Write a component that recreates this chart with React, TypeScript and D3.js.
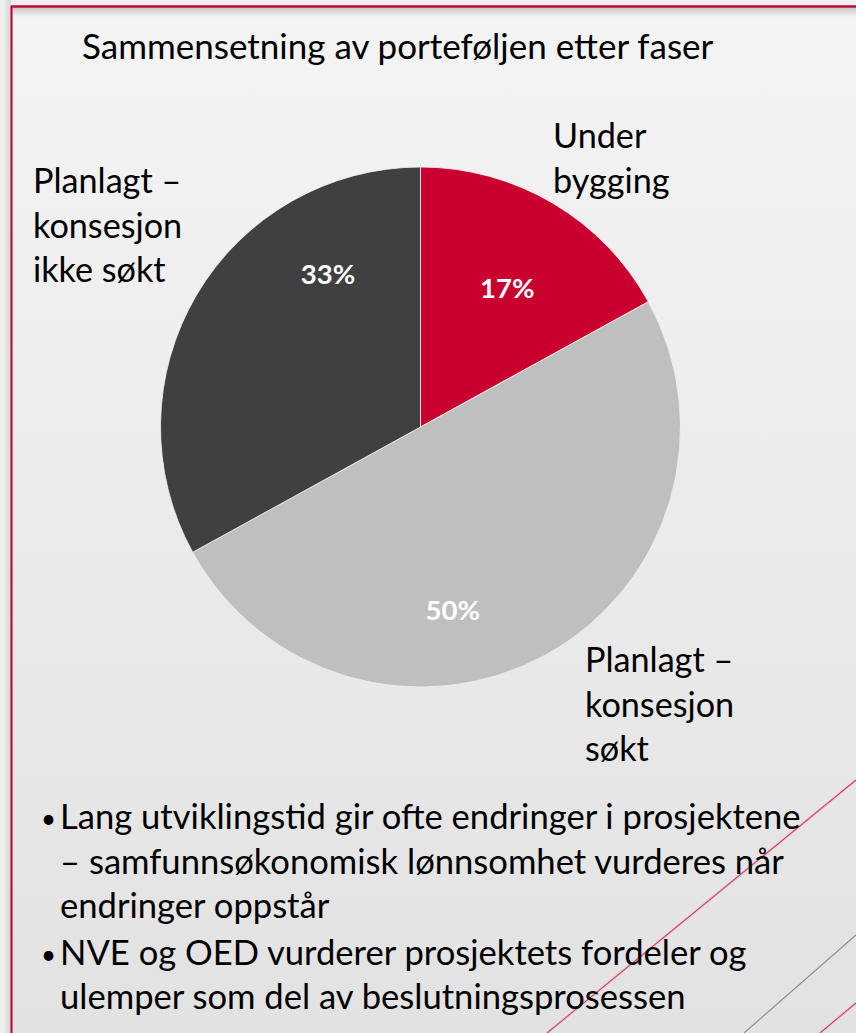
import React from "react";
import * as d3 from "d3";

const title = "Sammensetning av porteføljen etter faser";
const categories = ["Under bygging", "Planlagt – konsesjon søkt", "Planlagt – konsesjon ikke søkt"];
const shares = [17, 50, 33];
const categoryLines = [
  ["Under", "bygging"],
  ["Planlagt –", "konsesjon", "søkt"],
  ["Planlagt –", "konsesjon", "ikke søkt"],
];
const bullets = [
  [
    "Lang utviklingstid gir ofte endringer i prosjektene",
    "– samfunnsøkonomisk lønnsomhet vurderes når",
    "endringer oppstår",
  ],
  [
    "NVE og OED vurderer prosjektets fordeler og",
    "ulemper som del av beslutningsprosessen",
  ],
];

const W = 856;
const H = 1033;
const FONT = "Lato, 'Open Sans', sans-serif";
const colors = ["#c9002f", "#bfbfbf", "#404040"];
// category label anchor (x, first baseline) per slice
const catPos = [
  { x: 553, y: 148 },
  { x: 585, y: 672 },
  { x: 33, y: 193 },
];
// percent label placement relative to slice: angle (deg from top, clockwise), radius fraction
const pctPos = [
  { a: 32, r: 0.63 },
  { a: 170, r: 0.715 },
  { a: 328.7, r: 0.685 },
];

export default function App() {
  const cx = 420.5;
  const cy = 427;
  const R = 260;
  const pie = d3.pie<number>().sort(null).value((d) => d)(shares);
  const arc = d3.arc<d3.PieArcDatum<number>>().innerRadius(0).outerRadius(R);
  const lineH = 44.5;
  const bulletLineH = 44.5;
  const bulletParaGap = 2;
  const bulletTop = 829;

  let by = bulletTop;
  const bulletEls: React.ReactNode[] = [];
  bullets.forEach((para, pi) => {
    para.forEach((ln, li) => {
      if (li === 0) {
        bulletEls.push(
          <text key={`b${pi}`} x={41} y={by - 1} fontSize={26} fontFamily={FONT} fill="#000">•</text>
        );
      }
      bulletEls.push(
        <text key={`l${pi}-${li}`} x={60} y={by} fontSize={34.6} fontFamily={FONT} fill="#000">{ln}</text>
      );
      by += bulletLineH;
    });
    by += bulletParaGap;
  });

  const fmt = d3.format(".0%");
  const total = d3.sum(shares);

  return (
    <svg width={W} height={H} style={{ position: "absolute", left: 0, top: 0, display: "block" }}>
      <defs>
        <linearGradient id="bg" x1="0" y1="0" x2="0" y2="1">
          <stop offset="0" stopColor="#f4f4f4" />
          <stop offset="1" stopColor="#e2e2e2" />
        </linearGradient>
        <linearGradient id="topShadow" x1="0" y1="0" x2="0" y2="1">
          <stop offset="0" stopColor="#c8c8c8" />
          <stop offset="1" stopColor="#c8c8c8" stopOpacity="0" />
        </linearGradient>
        <linearGradient id="leftShadow" x1="1" y1="0" x2="0" y2="0">
          <stop offset="0" stopColor="#d4d4d4" />
          <stop offset="1" stopColor="#d4d4d4" stopOpacity="0" />
        </linearGradient>
      </defs>
      <rect x={0} y={0} width={W} height={H} fill="#efefef" />
      <rect x={3} y={0} width={8} height={H} fill="url(#leftShadow)" />
      <rect x={11} y={6} width={W} height={H} fill="url(#bg)" />
      <rect x={12} y={8} width={W} height={9} fill="url(#topShadow)" />
      <line x1={11.5} y1={6} x2={11.5} y2={H} stroke="#c0002b" strokeWidth={2} />
      <line x1={11} y1={6.5} x2={W} y2={6.5} stroke="#c0002b" strokeWidth={2.5} />

      {/* decorative diagonal lines */}
      <g>
        <line x1={856} y1={780} x2={547} y2={1033} stroke="#f0c4cf" strokeWidth={3} opacity={0.6} />
        <line x1={856} y1={780} x2={547} y2={1033} stroke="#cf4068" strokeWidth={1.1} />
        <line x1={856} y1={935} x2={744} y2={1033} stroke="#888888" strokeWidth={1.1} />
        <line x1={856} y1={1003} x2={820} y2={1033} stroke="#f0c4cf" strokeWidth={3} opacity={0.6} />
        <line x1={856} y1={1003} x2={820} y2={1033} stroke="#cf4068" strokeWidth={1.1} />
      </g>

      <text x={82} y={59} fontSize={35} fontFamily={FONT} fill="#000">{title}</text>

      <g transform={`translate(${cx},${cy})`}>
        {pie.map((d, i) => (
          <path key={categories[i]} d={arc(d) || ""} fill={colors[i]} stroke="#f4f4f4" strokeWidth={0.8} />
        ))}
        {pie.map((d, i) => {
          const a = (pctPos[i].a * Math.PI) / 180;
          const rr = pctPos[i].r * R;
          return (
            <text
              key={`p${i}`}
              x={Math.sin(a) * rr}
              y={-Math.cos(a) * rr}
              dy="0.35em"
              textAnchor="middle"
              fontSize={27.5}
              fontWeight={700}
              fontFamily={FONT}
              fill="#fff"
            >
              {fmt(d.value / total)}
            </text>
          );
        })}
      </g>

      {categoryLines.map((lines, i) => (
        <g key={`c${i}`}>
          {lines.map((ln, j) => (
            <text key={j} x={catPos[i].x} y={catPos[i].y + j * lineH} fontSize={34.2} fontFamily={FONT} fill="#000">
              {ln}
            </text>
          ))}
        </g>
      ))}

      {bulletEls}
    </svg>
  );
}
